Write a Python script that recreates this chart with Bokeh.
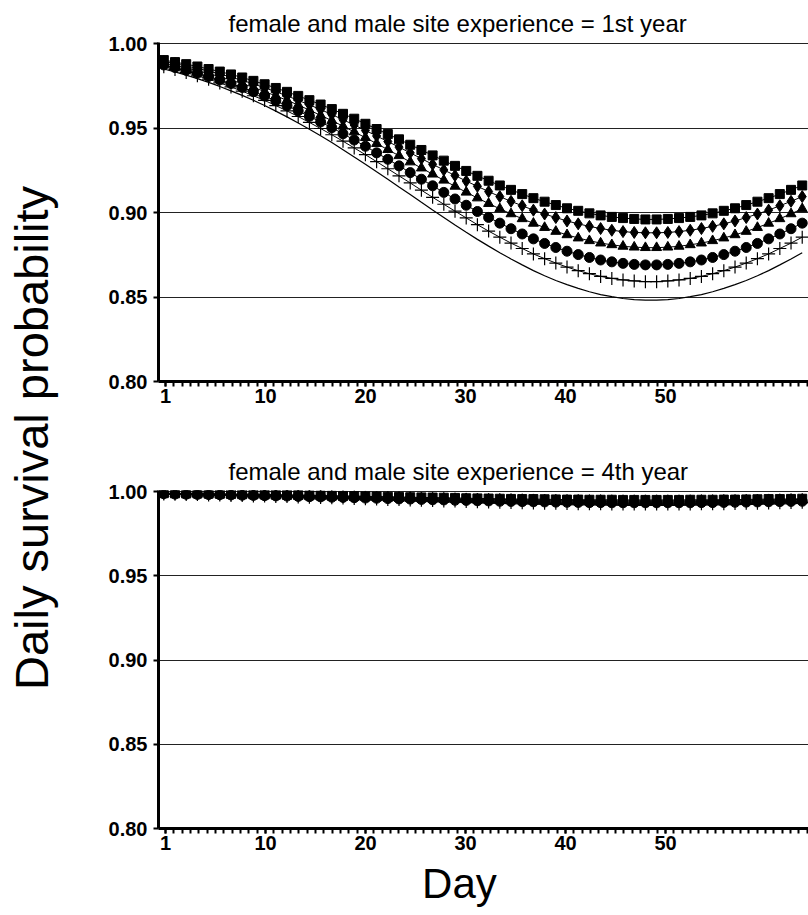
import math
from bokeh.plotting import figure
from bokeh.models import FixedTicker, Label, Range1d, PrintfTickFormatter, CustomJSTickFormatter
from bokeh.layouts import row, column
from bokeh.embed import file_html
from bokeh.resources import INLINE

# ---------------- data ----------------
days = list(range(1, 59))
x_tick_labels = ["1", "10", "20", "30", "40", "50"]
y_ticks = [0.80, 0.85, 0.90, 0.95, 1.00]

title_top = "female and male site experience = 1st year"
title_bottom = "female and male site experience = 4th year"
x_title = "Day"
y_title = "Daily survival probability"

# panel 1 (1st year)
y1_square = [.9902,.9890,.9878,.9864,.9849,.9834,.9817,.9799,.9779,.9759,
             .9737,.9714,.9690,.9665,.9639,.9612,.9584,.9555,.9525,.9494,
             .9464,.9433,.9401,.9370,.9338,.9307,.9276,.9246,.9217,.9188,
             .9160,.9134,.9109,.9085,.9064,.9044,.9025,.9010,.8995,.8983,
             .8974,.8967,.8962,.8959,.8959,.8962,.8967,.8974,.8983,.8995,
             .9010,.9025,.9044,.9064,.9085,.9109,.9134,.9160]
y1_diamond = [.9893,.9881,.9867,.9853,.9837,.9820,.9801,.9782,.9761,.9738,
              .9715,.9690,.9664,.9637,.9609,.9580,.9549,.9518,.9486,.9453,
              .9420,.9387,.9353,.9319,.9285,.9252,.9219,.9186,.9155,.9124,
              .9094,.9066,.9040,.9014,.8991,.8970,.8950,.8933,.8918,.8905,
              .8895,.8887,.8882,.8880,.8880,.8882,.8887,.8895,.8905,.8918,
              .8933,.8950,.8970,.8991,.9014,.9040,.9066,.9094]
y1_triangle = [.9884,.9870,.9856,.9840,.9822,.9804,.9784,.9763,.9740,.9716,
               .9690,.9664,.9636,.9606,.9575,.9544,.9511,.9477,.9443,.9408,
               .9372,.9336,.9299,.9263,.9227,.9191,.9155,.9120,.9086,.9053,
               .9022,.8992,.8963,.8936,.8911,.8888,.8868,.8849,.8833,.8819,
               .8809,.8800,.8795,.8792,.8792,.8795,.8800,.8809,.8819,.8833,
               .8849,.8868,.8888,.8911,.8936,.8963,.8992,.9022]
y1_circle = [.9873,.9858,.9842,.9824,.9805,.9785,.9763,.9740,.9715,.9689,
             .9661,.9632,.9602,.9569,.9536,.9502,.9466,.9429,.9392,.9353,
             .9315,.9276,.9236,.9197,.9158,.9119,.9080,.9043,.9006,.8971,
             .8937,.8904,.8873,.8844,.8817,.8793,.8771,.8751,.8734,.8719,
             .8708,.8699,.8693,.8690,.8690,.8693,.8699,.8708,.8719,.8734,
             .8751,.8771,.8793,.8817,.8844,.8873,.8904,.8937]
y1_cross = [.9862,.9846,.9828,.9809,.9789,.9767,.9743,.9718,.9691,.9663,
            .9633,.9601,.9568,.9533,.9497,.9460,.9422,.9382,.9342,.9301,
            .9259,.9217,.9175,.9132,.9090,.9049,.9008,.8968,.8928,.8890,
            .8854,.8819,.8787,.8755,.8727,.8701,.8677,.8656,.8638,.8622,
            .8610,.8601,.8595,.8591,.8591,.8595,.8601,.8610,.8622,.8638,
            .8656,.8677,.8701,.8727,.8755,.8787,.8819,.8854]
y1_line = [.9849,.9832,.9813,.9792,.9770,.9746,.9720,.9693,.9664,.9633,
           .9600,.9566,.9530,.9493,.9454,.9414,.9372,.9329,.9286,.9241,
           .9197,.9151,.9106,.9060,.9015,.8971,.8926,.8883,.8841,.8801,
           .8762,.8725,.8690,.8656,.8626,.8598,.8573,.8551,.8531,.8514,
           .8502,.8491,.8485,.8481,.8481,.8485,.8491,.8502,.8514,.8531,
           .8551,.8573,.8598,.8626,.8656,.8690,.8725,.8762]

# panel 2 (4th year)
y2_square = [.9990,.9989,.9988,.9988,.9987,.9986,.9985,.9984,.9983,.9982,
             .9981,.9980,.9979,.9977,.9976,.9975,.9974,.9973,.9971,.9970,
             .9969,.9968,.9966,.9965,.9964,.9963,.9962,.9960,.9959,.9958,
             .9957,.9956,.9955,.9955,.9954,.9953,.9952,.9952,.9951,.9951,
             .9951,.9950,.9950,.9950,.9950,.9950,.9950,.9951,.9951,.9951,
             .9952,.9952,.9953,.9954,.9955,.9955,.9956,.9957]
y2_diamond = [.9989,.9988,.9987,.9986,.9985,.9984,.9983,.9982,.9981,.9980,
              .9979,.9978,.9976,.9975,.9974,.9972,.9971,.9970,.9968,.9967,
              .9966,.9964,.9963,.9961,.9960,.9959,.9957,.9956,.9955,.9954,
              .9953,.9952,.9951,.9950,.9949,.9948,.9947,.9947,.9946,.9946,
              .9945,.9945,.9945,.9945,.9945,.9945,.9945,.9945,.9946,.9946,
              .9947,.9947,.9948,.9949,.9950,.9951,.9952,.9953]
y2_triangle = [.9988,.9987,.9986,.9985,.9984,.9983,.9982,.9980,.9979,.9978,
               .9977,.9975,.9974,.9972,.9971,.9969,.9968,.9966,.9965,.9963,
               .9962,.9960,.9959,.9957,.9956,.9954,.9953,.9952,.9950,.9949,
               .9948,.9947,.9946,.9944,.9944,.9943,.9942,.9941,.9941,.9940,
               .9940,.9939,.9939,.9939,.9939,.9939,.9939,.9940,.9940,.9941,
               .9941,.9942,.9943,.9944,.9944,.9946,.9947,.9948]
y2_circle = [.9987,.9985,.9984,.9983,.9982,.9981,.9980,.9978,.9977,.9975,
             .9974,.9973,.9971,.9969,.9968,.9966,.9965,.9963,.9961,.9960,
             .9958,.9956,.9955,.9953,.9951,.9950,.9948,.9947,.9945,.9944,
             .9942,.9941,.9940,.9939,.9938,.9937,.9936,.9935,.9934,.9934,
             .9933,.9933,.9933,.9933,.9933,.9933,.9933,.9933,.9934,.9934,
             .9935,.9936,.9937,.9938,.9939,.9940,.9941,.9942]
y2_cross = [.9985,.9984,.9983,.9982,.9980,.9979,.9977,.9976,.9974,.9973,
            .9971,.9970,.9968,.9966,.9964,.9963,.9961,.9959,.9957,.9955,
            .9953,.9952,.9950,.9948,.9946,.9944,.9943,.9941,.9939,.9938,
            .9936,.9935,.9933,.9932,.9931,.9930,.9929,.9928,.9927,.9927,
            .9926,.9926,.9926,.9926,.9926,.9926,.9926,.9926,.9927,.9927,
            .9928,.9929,.9930,.9931,.9932,.9933,.9935,.9936]
y2_line = [.9984,.9982,.9981,.9980,.9978,.9977,.9975,.9973,.9972,.9970,
           .9968,.9966,.9965,.9963,.9961,.9959,.9957,.9955,.9953,.9951,
           .9949,.9946,.9944,.9942,.9940,.9938,.9937,.9935,.9933,.9931,
           .9929,.9928,.9926,.9925,.9924,.9923,.9922,.9921,.9920,.9919,
           .9919,.9918,.9918,.9918,.9918,.9918,.9918,.9919,.9919,.9920,
           .9921,.9922,.9923,.9924,.9925,.9926,.9928,.9929]

FONT = "Liberation Sans"
PANEL_W = 742

# axis geometry (in day units of the x range)
X_START, X_END = 0.527, 58.56
LABEL_FIRST, LABEL_STEP = 1.152, 8.929      # where the printed x labels sit
MINOR_STEP = LABEL_STEP / 12.0
label_pos = [LABEL_FIRST + LABEL_STEP * k for k in range(len(x_tick_labels))]
minor_pos = [LABEL_FIRST + MINOR_STEP * k for k in range(-1, 80)
             if X_START < LABEL_FIRST + MINOR_STEP * k < X_END]


def text_strip(text, width, height, fx, fy, size, angle=0.0):
    f = figure(width=width, height=height, output_backend="svg", toolbar_location=None,
               x_range=Range1d(0, 1), y_range=Range1d(0, 1),
               x_axis_location=None, y_axis_location=None, min_border=0)
    f.outline_line_color = None
    f.grid.visible = False
    f.background_fill_color = "white"
    f.border_fill_color = "white"
    f.add_layout(Label(x=fx, y=fy, text=text, angle=angle, text_align="center",
                       text_baseline="middle", text_font=FONT, text_font_size=size,
                       text_color="black"))
    return f


def make_panel(title, series, height, min_top, min_bottom, standoff):
    p = figure(width=PANEL_W, height=height, output_backend="svg", toolbar_location=None,
               x_range=Range1d(X_START, X_END), y_range=Range1d(0.80, 1.0006),
               min_border_left=92, min_border_right=0,
               min_border_top=min_top, min_border_bottom=min_bottom)
    p.background_fill_color = "white"
    p.border_fill_color = "white"
    p.outline_line_color = None

    p.title.text = title
    p.title.align = "left"
    p.title.offset = 70
    p.title.standoff = standoff
    p.title.text_font = FONT
    p.title.text_font_size = "24px"
    p.title.text_font_style = "normal"
    p.title.text_color = "black"

    xa = p.xaxis[0]
    xa.ticker = FixedTicker(ticks=label_pos, minor_ticks=minor_pos)
    xa.formatter = CustomJSTickFormatter(args=dict(labels=x_tick_labels),
                                         code="return labels[index];")
    ya = p.yaxis[0]
    ya.ticker = FixedTicker(ticks=y_ticks, minor_ticks=[])
    ya.formatter = PrintfTickFormatter(format="%.2f")
    for ax in (xa, ya):
        ax.axis_line_width = 3
        ax.axis_line_color = "black"
        ax.major_tick_line_width = 2
        ax.major_tick_line_color = "black"
        ax.major_tick_out = 5
        ax.major_tick_in = 0
        ax.minor_tick_line_width = 2
        ax.minor_tick_line_color = "black"
        ax.minor_tick_out = 5
        ax.minor_tick_in = 0
        ax.major_label_text_font = FONT
        ax.major_label_text_font_size = "20px"
        ax.major_label_text_font_style = "bold"
        ax.major_label_text_color = "black"
        ax.major_label_standoff = 6
    xa.major_label_standoff = 2

    p.xgrid.visible = False
    p.ygrid.ticker = FixedTicker(ticks=[0.85, 0.90, 0.95, 1.00])
    p.ygrid.grid_line_color = "#222222"
    p.ygrid.grid_line_width = 1

    sq, di, tr, ci, cr, ln = series
    p.line(days, ln, line_color="black", line_width=1.2)
    p.line(days, cr, line_color="black", line_width=1)
    p.scatter(days, cr, marker="cross", size=13, line_color="black", line_width=1.2)
    p.line(days, ci, line_color="black", line_width=1)
    p.scatter(days, ci, marker="circle", size=10, fill_color="black", line_color="black")
    p.line(days, tr, line_color="black", line_width=1)
    p.scatter(days, tr, marker="triangle", size=10, fill_color="black", line_color="black")
    p.line(days, di, line_color="black", line_width=1)
    p.scatter(days, di, marker="diamond", size=12, fill_color="black", line_color="black")
    p.line(days, sq, line_color="black", line_width=1)
    p.scatter(days, sq, marker="square", size=9, fill_color="black", line_color="black")
    return p


top = make_panel(title_top, (y1_square, y1_diamond, y1_triangle, y1_circle, y1_cross, y1_line),
                 height=436, min_top=42, min_bottom=55, standoff=12)
bottom = make_panel(title_bottom, (y2_square, y2_diamond, y2_triangle, y2_circle, y2_cross, y2_line),
                    height=422, min_top=54, min_bottom=30, standoff=12)
t3 = text_strip(x_title, PANEL_W, 57, 0.463, 0.561, "42px")

lab = text_strip(y_title, 66, 915, 0.475, 0.5219, "47px", angle=math.pi / 2)

layout = row(lab, column(top, bottom, t3))

with open("out.html", "w") as f:
    f.write(file_html(layout, INLINE))
